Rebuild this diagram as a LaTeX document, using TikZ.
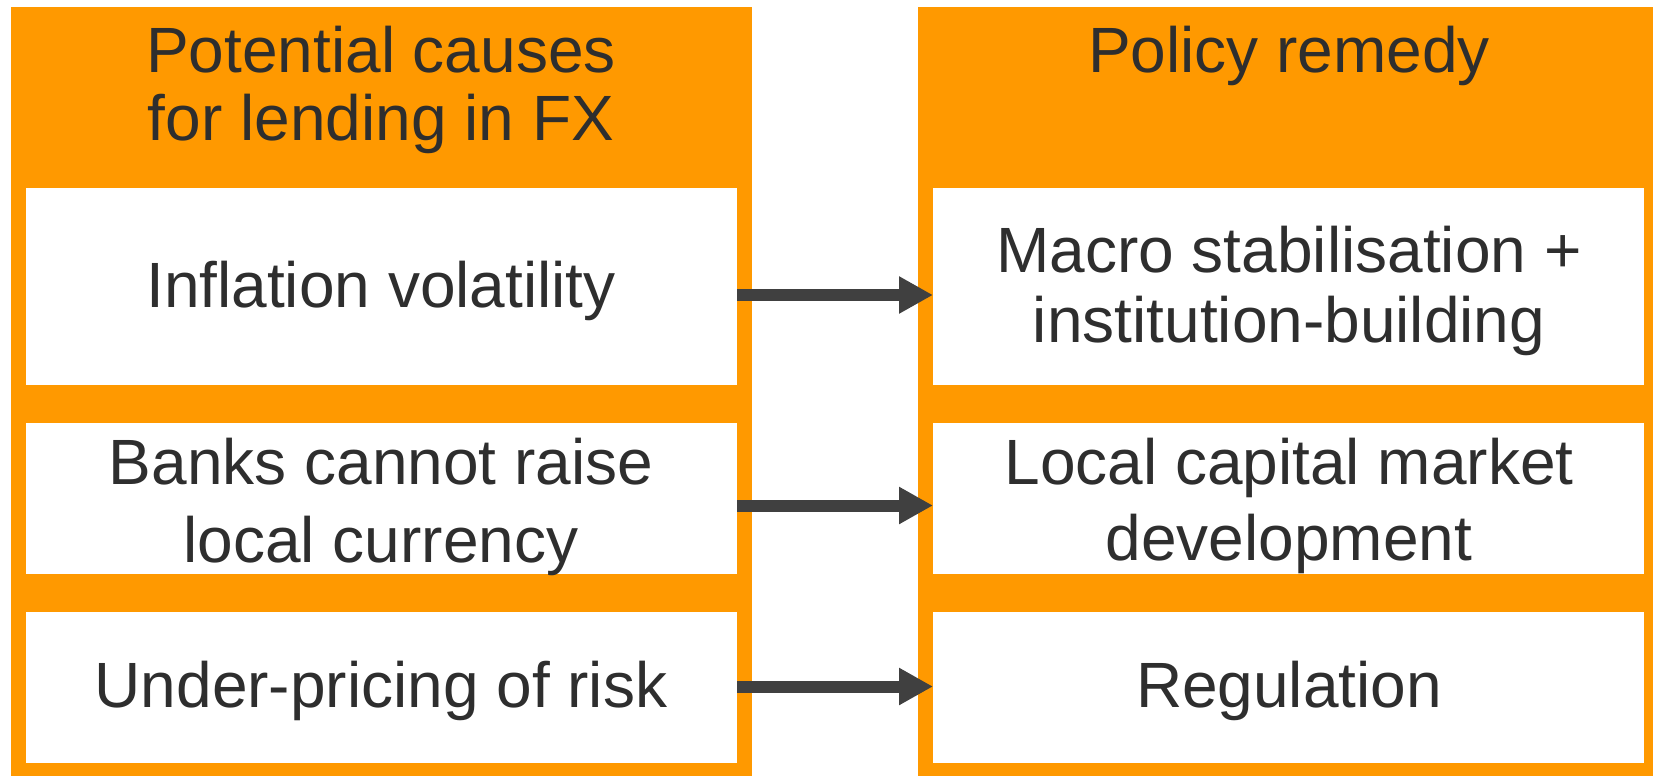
\documentclass[tikz,border=0pt]{standalone}
\usepackage{fontspec}
\setmainfont{Liberation Sans}
\usetikzlibrary{fit,arrows.meta}
\definecolor{panelorange}{HTML}{FF9900}
\definecolor{inktext}{HTML}{2E2E2E}
\definecolor{arrowgrey}{HTML}{404040}
\begin{document}
\begin{tikzpicture}[x=0.5pt,y=-0.5pt,
  panel/.style={fill=panelorange,draw=none,inner sep=0pt,outer sep=0pt},
  cell/.style={fill=white,draw=none,inner sep=0pt,outer sep=0pt},
  txt/.style={text=inktext,inner sep=0pt,anchor=base,
    font=\fontsize{32}{36}\selectfont},
  link/.style={draw=arrowgrey,line width=6pt,
    -{Triangle[length=17pt,width=17.5pt]}}]
\useasboundingbox (0,0) rectangle (1653,776);

% two column panels
\node[panel,fit={(11,7) (752,776)}] (left) {};
\node[panel,fit={(918,7) (1653,776)}] (right) {};

% white cells, causes on the left
\node[cell,fit={(26,188) (737,385)}] (a1) {};
\node[cell,fit={(26,423) (737,574)}] (a2) {};
\node[cell,fit={(26,612) (737,763)}] (a3) {};
% white cells, remedies on the right
\node[cell,fit={(933,188) (1644,385)}] (b1) {};
\node[cell,fit={(933,423) (1644,574)}] (b2) {};
\node[cell,fit={(933,612) (1644,763)}] (b3) {};

% headings
\node[txt] (h1a) at (381,72) {Potential causes};
\node[txt] (h1b) at (381,140) {for lending in FX};
\node[txt] (h2) at (1289,72) {Policy remedy};

% cell texts
\node[txt] (ta1) at (381,307) {Inflation volatility};
\node[txt] (ta2a) at (381,484) {Banks cannot raise};
\node[txt] (ta2b) at (381,562) {local currency};
\node[txt] (ta3) at (381,707) {Under-pricing of risk};

\node[txt] (tb1a) at (1289,272) {Macro stabilisation +};
\node[txt] (tb1b) at (1289,342) {institution-building};
\node[txt] (tb2a) at (1289,484) {Local capital market};
\node[txt] (tb2b) at (1289,560) {development};
\node[txt] (tb3) at (1289,707) {Regulation};

% arrows from each cause to its remedy
\draw[link] (a1.east |- 0,295) -- (b1.west |- 0,295);
\draw[link] (a2.east |- 0,505.5) -- (b2.west |- 0,505.5);
\draw[link] (a3.east |- 0,686.5) -- (b3.west |- 0,686.5);
\end{tikzpicture}
\end{document}
